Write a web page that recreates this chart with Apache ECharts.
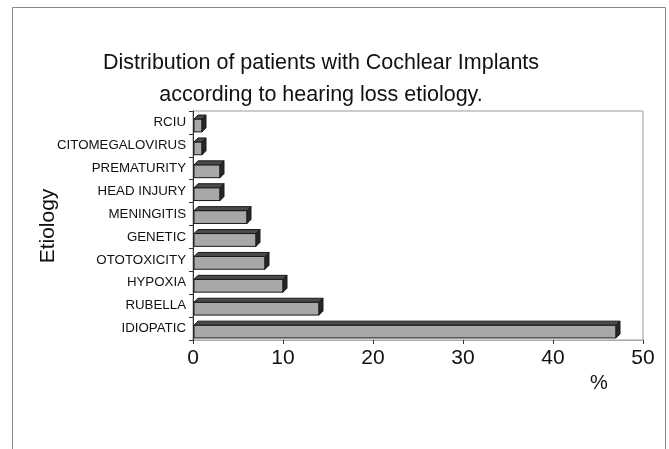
<!DOCTYPE html>
<html>
<head>
<meta charset="utf-8">
<script src="https://cdn.jsdelivr.net/npm/echarts@6/dist/echarts.min.js"></script>
<style>
  html, body { margin: 0; padding: 0; background: #fff; }
  #chart { width: 669px; height: 449px; }
</style>
</head>
<body>
<div id="chart"></div>
<script>
var categories = ['IDIOPATIC', 'RUBELLA', 'HYPOXIA', 'OTOTOXICITY', 'GENETIC',
  'MENINGITIS', 'HEAD INJURY', 'PREMATURITY', 'CITOMEGALOVIRUS', 'RCIU'];
var percents = [47, 14, 10, 8, 7, 6, 3, 3, 1, 1];
var titleLines = ['Distribution of patients with Cochlear Implants', 'according to hearing loss etiology.'];

var font = 'Liberation Sans, Arial, sans-serif';
var depth = 4; // fake 3d depth, px

// draw a bar as front face + top face + side face
function renderBar(params, api) {
  var cat = api.value(0);
  var val = api.value(1);
  var start = api.coord([0, cat]);
  var end = api.coord([val, cat]);
  var h = api.size([0, 1])[1] * 0.56;
  var x0 = start[0] + 1;
  var x1 = end[0];
  var yTop = start[1] - h / 2 + depth / 2 + 1;
  var yBot = yTop + h;
  var edge = { stroke: '#1a1a1a', lineWidth: 1 };
  return {
    type: 'group',
    children: [
      {
        type: 'rect',
        shape: { x: x0, y: yTop, width: x1 - x0, height: h },
        style: Object.assign({ fill: '#a8a8a8' }, edge)
      },
      {
        type: 'polygon',
        shape: { points: [[x0, yTop], [x0 + depth, yTop - depth], [x1 + depth, yTop - depth], [x1, yTop]] },
        style: Object.assign({ fill: '#4a4a4a' }, edge)
      },
      {
        type: 'polygon',
        shape: { points: [[x1, yTop], [x1 + depth, yTop - depth], [x1 + depth, yBot - depth], [x1, yBot]] },
        style: Object.assign({ fill: '#262626' }, edge)
      }
    ]
  };
}

var myChart = echarts.init(document.getElementById('chart'));
myChart.setOption({
  animation: false,
  backgroundColor: '#fff',
  title: {
    text: titleLines.join('\n'),
    left: 316,
    top: 42,
    textAlign: 'center',
    textStyle: { fontFamily: font, fontSize: 21.5, fontWeight: 'normal', color: '#111', lineHeight: 32 }
  },
  graphic: [
    { // outer frame
      type: 'rect',
      shape: { x: 12.5, y: 7.5, width: 653, height: 460 },
      style: { fill: 'none', stroke: '#888', lineWidth: 1 },
      silent: true
    },
    {
      type: 'text',
      left: 590,
      top: 373,
      style: { text: '%', font: '20px ' + font, fill: '#111' }
    },
    { // y axis title
      type: 'text',
      x: 48,
      y: 226,
      rotation: Math.PI / 2,
      style: { text: 'Etiology', font: '21px ' + font, fill: '#111', align: 'center', verticalAlign: 'middle' }
    }
  ],
  grid: {
    show: true,
    left: 193,
    right: 26,
    top: 111,
    bottom: 109,
    borderColor: '#999',
    borderWidth: 1
  },
  xAxis: {
    type: 'value',
    min: 0,
    max: 50,
    interval: 10,
    splitLine: { show: false },
    axisLine: { show: true, lineStyle: { color: '#aaa', width: 1 } },
    axisTick: { show: true, length: 4, lineStyle: { color: '#333' } },
    axisLabel: { fontFamily: font, fontSize: 21, color: '#111', margin: 8 }
  },
  yAxis: {
    type: 'category',
    data: categories,
    axisLine: { show: true, lineStyle: { color: '#333', width: 1 } },
    axisTick: { show: true, length: 4, lineStyle: { color: '#333' } },
    axisLabel: { fontFamily: font, fontSize: 13.3, color: '#111', margin: 7 }
  },
  series: [{
    type: 'custom',
    renderItem: renderBar,
    encode: { x: 1, y: 0 },
    data: percents.map(function (v, i) { return [i, v]; })
  }]
});
</script>
</body>
</html>
